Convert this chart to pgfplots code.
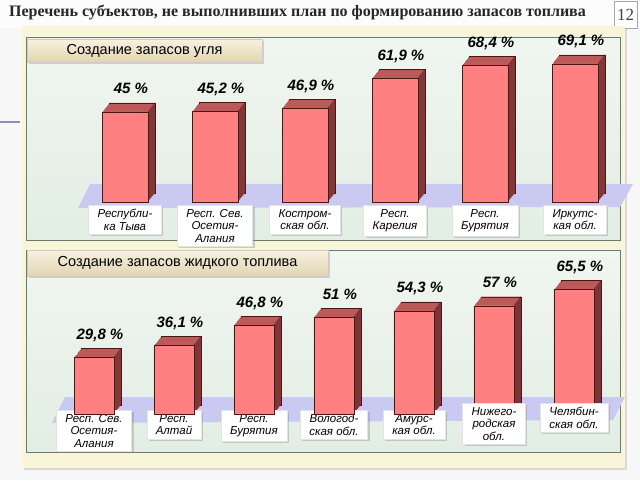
\documentclass[border=0pt]{standalone}
\usepackage{pgfplots}
\pgfplotsset{compat=1.18}
\usepackage{pgfplotstable}
\usepackage{fontspec}
\setmainfont{Liberation Serif}
\newfontfamily\arial{Liberation Sans}
\usetikzlibrary{shadows}
\definecolor{barfront}{HTML}{FF8080}
\definecolor{barcap}{HTML}{BC5A5A}
\definecolor{barside}{HTML}{7E3434}
\definecolor{baredge}{HTML}{4A1616}
\definecolor{floorc}{HTML}{C9C9F2}
\definecolor{outerbg}{HTML}{F8F5D8}
\definecolor{paneltop}{HTML}{F0F6F0}
\definecolor{panelbot}{HTML}{E2EEE4}
\definecolor{paneledge}{HTML}{6E7A6E}
\definecolor{headtop}{HTML}{F7F1DF}
\definecolor{headbot}{HTML}{E2D5B3}

\pgfplotstableread{
x v
0 45
1 45.2
2 46.9
3 61.9
4 68.4
5 69.1
}\coal

\pgfplotstableread{
x v
0 29.8
1 36.1
2 46.8
3 51
4 54.3
5 57
6 65.5
}\liquid

\pgfplotsset{
  slidebars/.style={
    scale only axis,
    ymin=0,
    axis line style={draw=none},
    major tick length=0pt,
    ytick=\empty,
    clip=false,
  },
  toparea/.style={slidebars, anchor=south west, width=540pt, height=180pt, ymax=90, xmin=-0.5, xmax=5.5},
  botarea/.style={slidebars, anchor=south west, width=560pt, height=171pt, ymax=90, xmin=-0.5, xmax=6.5},
  catlabels/.style={
    xticklabel style={
      font={\arial\itshape\fontsize{11.5}{12.5}\selectfont},
      fill=white, draw=gray!22,
      drop shadow={shadow xshift=2pt, shadow yshift=-2pt, opacity=0.35},
      align=center, inner xsep=9pt, inner ysep=4pt, anchor=north},
  },
  valnodes/.style={
    nodes near coords={\pgfmathprintnumber[fixed,use comma,assume math mode=true]{\pgfplotspointmeta}~\%},
    every node near coord/.append style={
      font={\arial\bfseries\itshape\fontsize{15}{15}\selectfont},
      anchor=base, yshift=18pt, xshift=6pt, text=black},
  },
}

\begin{document}
\begin{tikzpicture}
\begin{scope}[x=1pt,y=1pt]
\fill[gray!6] (0,0) rectangle (640,480);
\fill[white!60!gray!6] (0,452) rectangle (640,480);
% left decoration
\draw[line width=2.5pt, color=blue!25!gray!70] (0,358) -- (20,358);
% title
\node[font={\bfseries\fontsize{16}{16}\selectfont}, text=black!85] at (297.5,467)
  {Перечень субъектов, не выполнивших план по формированию запасов топлива};
\node[draw=gray!70, fill=white, minimum width=23pt, minimum height=27pt, inner sep=0pt,
  font={\fontsize{17}{17}\selectfont}, text=black!75] at (625.5,465.5) {12};
% outer yellow panel
\fill[outerbg, drop shadow={shadow xshift=2pt, shadow yshift=-2pt, opacity=0.25}] (22,12) rectangle (625,454);
% inner panels
\draw[paneledge, top color=paneltop, bottom color=panelbot] (26,240) rectangle (620,443);
\draw[paneledge, top color=paneltop, bottom color=panelbot] (26,28) rectangle (620,230);
% floors
\fill[floorc] (78,272) -- (90,296) -- (633,296) -- (620,273) -- cycle;
\fill[floorc] (52,57) -- (65,83) -- (625,83) -- (613,60) -- cycle;
% headers
\node[draw=gray!40, top color=headtop, bottom color=headbot,
  drop shadow={shadow xshift=2pt, shadow yshift=-2pt, opacity=0.3},
  minimum width=235pt, minimum height=23pt, inner sep=0pt,
  font={\arial\fontsize{14.5}{14.5}\selectfont}] at (144.5,429.5) {Создание запасов угля};
\node[draw=gray!40, top color=headtop, bottom color=headbot,
  drop shadow={shadow xshift=2pt, shadow yshift=-2pt, opacity=0.3},
  minimum width=301pt, minimum height=26pt, inner sep=0pt,
  font={\arial\fontsize{14.5}{14.5}\selectfont}] at (177.5,217) {Создание запасов жидкого топлива};
\end{scope}

% ---------- top chart: depth layers (back face with outline) ----------
\begin{axis}[toparea, at={(87pt,287pt)}, xtick=\empty]
\addplot[ybar, bar width=46pt, bar shift=0pt, fill=barcap, draw=none] table[x=x,y=v]{\coal};
\addplot[ybar, bar width=1pt, bar shift=22.5pt, fill=barside, draw=none] table[x=x,y=v]{\coal};
\addplot[ybar, bar width=46pt, bar shift=0pt, fill=none, draw=baredge] table[x=x,y=v]{\coal};
\end{axis}
\foreach \k in {6,5,4,3,2,1}{
\begin{axis}[toparea, at={({(80+\k)*1pt},{(278+\k*1.2857)*1pt})}, xtick=\empty]
\addplot[ybar, bar width=46pt, bar shift=0pt, fill=barcap, draw=none] table[x=x,y=v]{\coal};
\addplot[ybar, bar width=1pt, bar shift=22.5pt, fill=barside, draw=none] table[x=x,y=v]{\coal};
\end{axis}
}
% top chart: front
\begin{axis}[toparea, catlabels, at={(80pt,278pt)},
  xtick={0,...,5},
  xticklabels={{Республи-\\ка Тыва},{Респ. Сев.\\Осетия-\\Алания},{Костром-\\ская обл.},{Респ.\\Карелия},{Респ.\\Бурятия},{Иркутс-\\кая обл.}},
  xticklabel style={yshift=-3pt}]
\addplot[ybar, bar width=46pt, bar shift=0pt, fill=barfront, draw=baredge, valnodes] table[x=x,y=v]{\coal};
\end{axis}

% ---------- bottom chart: depth layers ----------
\begin{axis}[botarea, at={(61pt,75pt)}, xtick=\empty]
\addplot[ybar, bar width=40pt, bar shift=0pt, fill=barcap, draw=none] table[x=x,y=v]{\liquid};
\addplot[ybar, bar width=1pt, bar shift=19.5pt, fill=barside, draw=none] table[x=x,y=v]{\liquid};
\addplot[ybar, bar width=40pt, bar shift=0pt, fill=none, draw=baredge] table[x=x,y=v]{\liquid};
\end{axis}
\foreach \k in {6,5,4,3,2,1}{
\begin{axis}[botarea, at={({(54+\k)*1pt},{(66+\k*1.2857)*1pt})}, xtick=\empty]
\addplot[ybar, bar width=40pt, bar shift=0pt, fill=barcap, draw=none] table[x=x,y=v]{\liquid};
\addplot[ybar, bar width=1pt, bar shift=19.5pt, fill=barside, draw=none] table[x=x,y=v]{\liquid};
\end{axis}
}
% bottom chart: front
\begin{axis}[botarea, catlabels, at={(54pt,66pt)},
  xtick={0,...,4},
  xticklabels={{Респ. Сев.\\Осетия-\\Алания},{Респ.\\Алтай},{Респ.\\Бурятия},{Вологод-\\ская обл.},{Амурс-\\кая обл.}},
  xticklabel style={yshift=4pt}]
\addplot[ybar, bar width=40pt, bar shift=0pt, fill=barfront, draw=baredge, valnodes] table[x=x,y=v]{\liquid};
\end{axis}
% bottom chart: last two category labels, set a little higher
\begin{axis}[botarea, catlabels, at={(54pt,66pt)},
  xtick={5,6},
  xticklabels={{Нижего-\\родская\\обл.},{Челябин-\\ская обл.}},
  xticklabel style={yshift=11pt}]
\addplot[draw=none, mark=none] coordinates {(5,0) (6,0)};
\end{axis}
\pgfresetboundingbox
\useasboundingbox (0pt,0pt) rectangle (640pt,480pt);
\end{tikzpicture}
\end{document}
